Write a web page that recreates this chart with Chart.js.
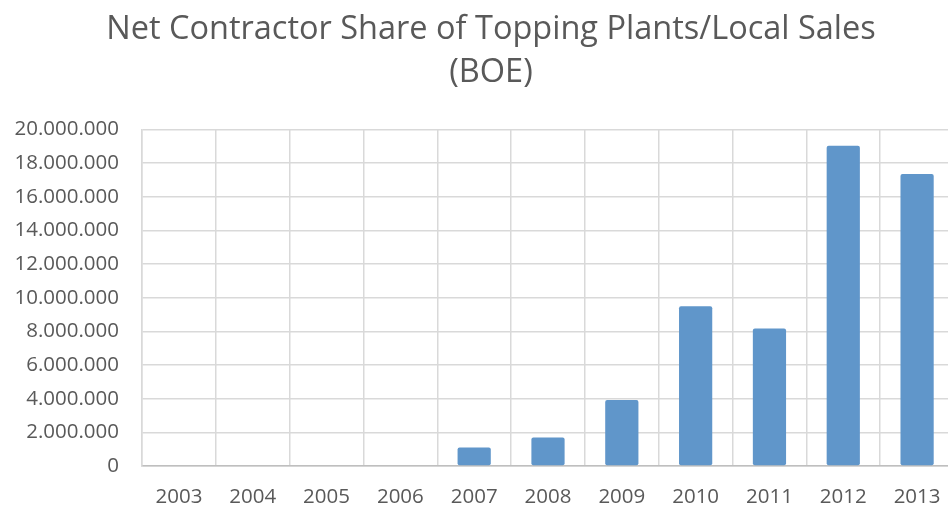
<!DOCTYPE html>
<html lang="en">
<head>
    <meta charset="UTF-8">
    <title>Net Contractor Share of Topping Plants/Local Sales (BOE)</title>
    <script src="https://cdn.jsdelivr.net/npm/chart.js"></script>
    <style>
        html, body { margin: 0; padding: 0; background: #fff; overflow: hidden; }
        #wrap { position: relative; width: 960px; height: 507px; }
    </style>
</head>
<body>
    <div id="wrap"><canvas id="boeChart"></canvas></div>

    <script>
        // values (BOE)
        const years = ["2003", "2004", "2005", "2006", "2007", "2008", "2009", "2010", "2011", "2012", "2013"];
        const netShare = [0, 0, 0, 0, 1100000, 1700000, 3930000, 9500000, 8170000, 19030000, 17350000];
        const yTicks = [0, 2000000, 4000000, 6000000, 8000000, 10000000, 12000000, 14000000, 16000000, 18000000, 20000000];

        const textColor = "#595959";
        const fontFamily = "'Open Sans', sans-serif";

        // 20000000 -> "20.000.000"
        function dotted(v) {
            return String(v).replace(/\B(?=(\d{3})+(?!\d))/g, ".");
        }

        // the title in the original sits a bit right of the canvas centre
        const shiftTitle = {
            id: "shiftTitle",
            afterLayout(chart) {
                if (chart.titleBlock) chart.titleBlock.left += 28;
            }
        };

        new Chart(document.getElementById("boeChart"), {
            type: "bar",
            data: {
                labels: years,
                datasets: [{
                    label: "Net Contractor Share",
                    data: netShare,
                    backgroundColor: "#6096CA",
                    borderWidth: 0,
                    borderRadius: 2,
                    borderSkipped: false,
                    categoryPercentage: 1,
                    barPercentage: 0.45
                }]
            },
            plugins: [shiftTitle],
            options: {
                responsive: true,
                maintainAspectRatio: false,
                animation: false,
                layout: { padding: { left: 0, right: 6, top: 0, bottom: 0 } },
                plugins: {
                    legend: { display: false },
                    tooltip: { enabled: false },
                    title: {
                        display: true,
                        text: ["Net Contractor Share of Topping Plants/Local Sales", "(BOE)"],
                        color: textColor,
                        font: { family: fontFamily, size: 32.5, weight: "normal", lineHeight: 1.3 },
                        padding: { top: 9, bottom: 36 }
                    }
                },
                scales: {
                    x: {
                        grid: { color: "#d9d9d9", lineWidth: 1.5, drawTicks: false, offset: true },
                        border: { color: "#bfbfbf", width: 1.5 },
                        ticks: {
                            color: textColor,
                            font: { family: fontFamily, size: 20.5 },
                            padding: 19,
                            maxRotation: 0
                        },
                        afterFit: s => { s.height = 41; }
                    },
                    y: {
                        min: 0,
                        max: 20000000,
                        grid: { color: "#d9d9d9", lineWidth: 1.5, drawTicks: false },
                        border: { color: "#d9d9d9", width: 1.5 },
                        afterBuildTicks: s => { s.ticks = yTicks.map(v => ({ value: v })); },
                        ticks: {
                            color: textColor,
                            font: { family: fontFamily, size: 20.5 },
                            padding: 23,
                            callback: v => dotted(v)
                        },
                        afterFit: s => { s.width = 142; }
                    }
                }
            }
        });
    </script>
</body>
</html>
